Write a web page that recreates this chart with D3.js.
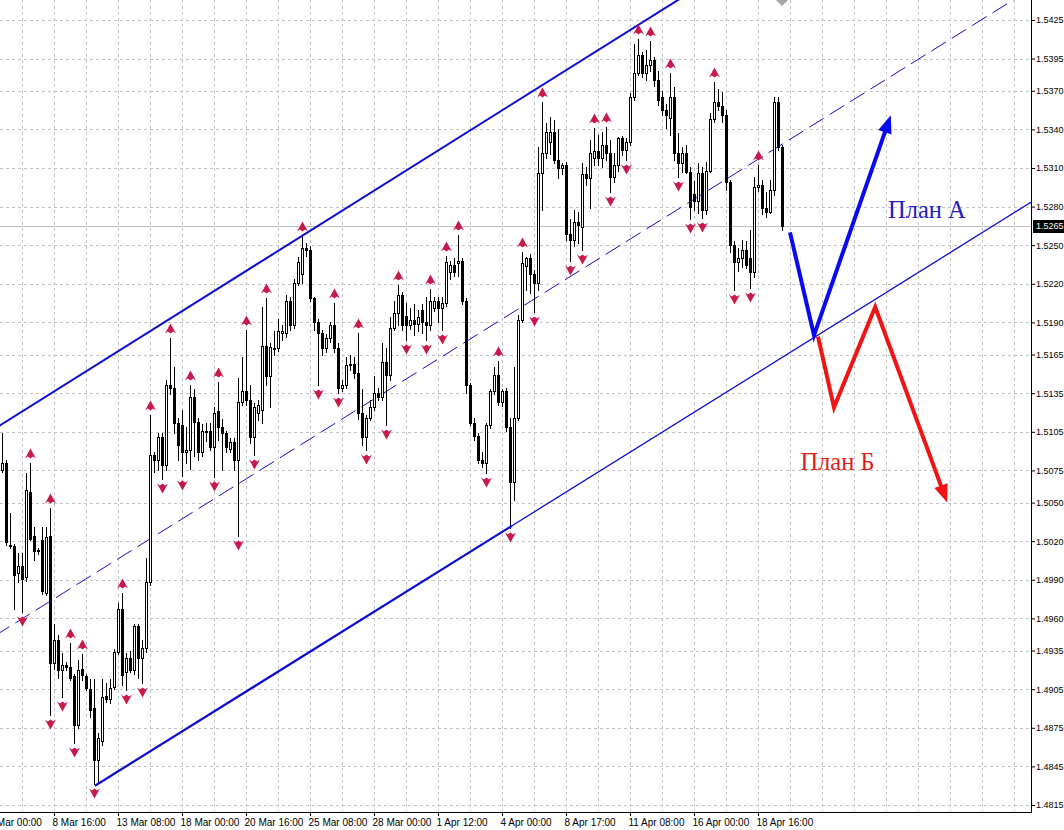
<!DOCTYPE html>
<html><head><meta charset="utf-8">
<script src="https://cdn.jsdelivr.net/npm/d3@7"></script>
<style>
html,body{margin:0;padding:0;background:#fff;}
svg{display:block;}
</style></head><body>
<svg id="chart" width="1064" height="830"></svg>
<script>
// ---- data (H4 bars, prices) ----
const openP = [
1.5075,1.5081,1.5017,1.5016,1.4995,1.5001,1.4992,1.5058,1.5024,1.5012,
1.5021,1.4980,1.5024,1.4925,1.4943,1.4920,1.4924,1.4922,1.4915,1.4877,
1.4921,1.4915,1.4905,1.4890,1.4850,1.4865,1.4900,1.4897,1.4907,1.4934,
1.4967,1.4918,1.4929,1.4920,1.4954,1.4929,1.4937,1.4988,1.5087,1.5083,
1.5101,1.5079,1.5141,1.5139,1.5112,1.5110,1.5089,1.5091,1.5132,1.5113,
1.5089,1.5106,1.5106,1.5093,1.5121,1.5109,1.5104,1.5092,1.5097,1.5083,
1.5128,1.5137,1.5130,1.5101,1.5120,1.5122,1.5172,1.5148,1.5169,1.5170,
1.5182,1.5182,1.5207,1.5188,1.5221,1.5228,1.5248,1.5246,1.5209,1.5190,
1.5182,1.5170,1.5178,1.5188,1.5170,1.5139,1.5141,1.5157,1.5158,1.5151,
1.5120,1.5101,1.5116,1.5124,1.5135,1.5132,1.5159,1.5149,1.5186,1.5197,
1.5211,1.5195,1.5188,1.5192,1.5189,1.5200,1.5190,1.5188,1.5201,1.5207,
1.5201,1.5205,1.5229,1.5235,1.5236,1.5238,1.5207,1.5141,1.5112,1.5102,
1.5083,1.5081,1.5110,1.5137,1.5149,1.5128,1.5137,1.5109,1.5066,1.5116,
1.5192,1.5234,1.5240,1.5228,1.5221,1.5306,1.5322,1.5330,1.5338,1.5316,
1.5310,1.5312,1.5259,1.5254,1.5268,1.5264,1.5305,1.5302,1.5318,1.5323,
1.5318,1.5328,1.5322,1.5303,1.5312,1.5333,1.5324,1.5330,1.5365,1.5384,
1.5398,1.5384,1.5390,1.5394,1.5378,1.5365,1.5355,1.5349,1.5365,1.5322,
1.5314,1.5322,1.5307,1.5290,1.5284,1.5306,1.5277,1.5308,1.5348,1.5361,
1.5358,1.5351,1.5299,1.5250,1.5237,1.5240,1.5246,1.5240,1.5229,1.5295,
1.5297,1.5279,1.5276,1.5293,1.5361,1.5326];
const highP = [
1.5104,1.5083,1.5042,1.5018,1.5011,1.5011,1.5073,1.5081,1.5031,1.5015,
1.5031,1.5031,1.5046,1.4956,1.4947,1.4933,1.4926,1.4941,1.4917,1.4928,
1.4932,1.4917,1.4913,1.4913,1.4871,1.4913,1.4910,1.4913,1.4936,1.4972,
1.4980,1.4933,1.4935,1.4956,1.4956,1.4943,1.5007,1.5118,1.5089,1.5104,
1.5104,1.5145,1.5178,1.5155,1.5116,1.5122,1.5109,1.5141,1.5138,1.5116,
1.5111,1.5112,1.5112,1.5124,1.5144,1.5115,1.5106,1.5100,1.5100,1.5147,
1.5163,1.5184,1.5141,1.5127,1.5130,1.5202,1.5209,1.5174,1.5183,1.5193,
1.5188,1.5211,1.5210,1.5224,1.5241,1.5257,1.5252,1.5249,1.5210,1.5193,
1.5184,1.5181,1.5190,1.5205,1.5174,1.5145,1.5163,1.5165,1.5163,1.5182,
1.5138,1.5118,1.5130,1.5148,1.5139,1.5174,1.5170,1.5194,1.5207,1.5219,
1.5214,1.5205,1.5201,1.5204,1.5200,1.5204,1.5210,1.5216,1.5210,1.5210,
1.5210,1.5242,1.5238,1.5240,1.5258,1.5240,1.5209,1.5143,1.5116,1.5104,
1.5089,1.5112,1.5138,1.5155,1.5160,1.5138,1.5139,1.5116,1.5155,1.5196,
1.5245,1.5241,1.5243,1.5231,1.5326,1.5361,1.5345,1.5350,1.5347,1.5340,
1.5314,1.5315,1.5270,1.5277,1.5276,1.5314,1.5311,1.5332,1.5341,1.5336,
1.5338,1.5342,1.5332,1.5322,1.5334,1.5335,1.5333,1.5368,1.5406,1.5410,
1.5400,1.5402,1.5409,1.5396,1.5385,1.5370,1.5360,1.5384,1.5373,1.5337,
1.5326,1.5328,1.5311,1.5300,1.5314,1.5311,1.5315,1.5353,1.5377,1.5371,
1.5369,1.5355,1.5301,1.5253,1.5248,1.5254,1.5253,1.5262,1.5303,1.5312,
1.5301,1.5291,1.5301,1.5365,1.5365,1.5328];
const lowP = [
1.5074,1.5017,1.5015,1.4967,1.4988,1.4965,1.4989,1.5021,1.5005,1.5010,
1.4979,1.4978,1.4885,1.4921,1.4914,1.4899,1.4920,1.4912,1.4863,1.4875,
1.4912,1.4904,1.4883,1.4831,1.4833,1.4862,1.4895,1.4894,1.4905,1.4932,
1.4908,1.4904,1.4918,1.4917,1.4914,1.4910,1.4934,1.4986,1.5074,1.5075,
1.5068,1.5075,1.5134,1.5104,1.5083,1.5071,1.5081,1.5076,1.5086,1.5083,
1.5086,1.5098,1.5091,1.5070,1.5099,1.5075,1.5089,1.5089,1.5075,1.5024,
1.5126,1.5126,1.5096,1.5087,1.5114,1.5112,1.5141,1.5124,1.5165,1.5168,
1.5176,1.5179,1.5184,1.5186,1.5219,1.5221,1.5242,1.5207,1.5184,1.5141,
1.5165,1.5167,1.5175,1.5167,1.5135,1.5137,1.5139,1.5153,1.5147,1.5115,
1.5095,1.5091,1.5114,1.5122,1.5130,1.5130,1.5110,1.5145,1.5184,1.5188,
1.5184,1.5176,1.5185,1.5180,1.5183,1.5182,1.5176,1.5184,1.5199,1.5190,
1.5184,1.5203,1.5224,1.5226,1.5226,1.5204,1.5135,1.5110,1.5099,1.5081,
1.5078,1.5073,1.5108,1.5134,1.5126,1.5125,1.5106,1.5030,1.5052,1.5114,
1.5190,1.5215,1.5213,1.5198,1.5215,1.5277,1.5318,1.5321,1.5314,1.5302,
1.5305,1.5254,1.5238,1.5249,1.5252,1.5246,1.5297,1.5279,1.5312,1.5312,
1.5311,1.5316,1.5291,1.5299,1.5308,1.5320,1.5316,1.5328,1.5363,1.5382,
1.5381,1.5378,1.5385,1.5374,1.5359,1.5351,1.5341,1.5336,1.5316,1.5303,
1.5307,1.5306,1.5270,1.5277,1.5275,1.5271,1.5274,1.5307,1.5346,1.5355,
1.5346,1.5293,1.5245,1.5215,1.5230,1.5233,1.5232,1.5217,1.5225,1.5292,
1.5274,1.5272,1.5275,1.5289,1.5324,1.5262];
const closeP = [
1.5081,1.5019,1.5016,1.4994,1.5001,1.4991,1.5060,1.5022,1.5012,1.5013,
1.4981,1.5023,1.4925,1.4943,1.4920,1.4924,1.4922,1.4914,1.4877,1.4920,
1.4916,1.4906,1.4889,1.4850,1.4867,1.4899,1.4897,1.4906,1.4934,1.4967,
1.4916,1.4929,1.4920,1.4954,1.4929,1.4937,1.4988,1.5087,1.5083,1.5101,
1.5079,1.5141,1.5139,1.5112,1.5095,1.5089,1.5091,1.5132,1.5113,1.5089,
1.5106,1.5105,1.5093,1.5120,1.5109,1.5104,1.5093,1.5097,1.5083,1.5128,
1.5137,1.5130,1.5101,1.5124,1.5126,1.5172,1.5148,1.5171,1.5170,1.5183,
1.5183,1.5207,1.5188,1.5221,1.5237,1.5248,1.5246,1.5209,1.5190,1.5182,
1.5170,1.5178,1.5188,1.5170,1.5139,1.5141,1.5157,1.5158,1.5151,1.5120,
1.5101,1.5116,1.5124,1.5135,1.5132,1.5159,1.5149,1.5186,1.5197,1.5211,
1.5188,1.5188,1.5192,1.5189,1.5194,1.5190,1.5188,1.5207,1.5207,1.5201,
1.5205,1.5237,1.5235,1.5229,1.5238,1.5207,1.5141,1.5112,1.5102,1.5083,
1.5081,1.5110,1.5137,1.5149,1.5128,1.5137,1.5109,1.5066,1.5116,1.5192,
1.5236,1.5240,1.5228,1.5221,1.5306,1.5322,1.5338,1.5338,1.5316,1.5310,
1.5312,1.5259,1.5254,1.5268,1.5266,1.5305,1.5302,1.5322,1.5323,1.5318,
1.5328,1.5322,1.5303,1.5312,1.5333,1.5324,1.5330,1.5365,1.5384,1.5398,
1.5384,1.5390,1.5394,1.5378,1.5363,1.5355,1.5351,1.5365,1.5322,1.5314,
1.5322,1.5307,1.5280,1.5284,1.5306,1.5277,1.5308,1.5348,1.5361,1.5358,
1.5351,1.5299,1.5250,1.5237,1.5240,1.5246,1.5235,1.5229,1.5295,1.5297,
1.5279,1.5276,1.5293,1.5361,1.5326,1.5265];

const xTickIndex  = [-3,13,29,45,61,77,93,109,125,141,157,173,189];
const xTickLabels = ["6 Mar 00:00","8 Mar 16:00","13 Mar 08:00","18 Mar 00:00","20 Mar 16:00",
  "25 Mar 08:00","28 Mar 00:00","1 Apr 12:00","4 Apr 00:00","8 Apr 17:00","11 Apr 08:00",
  "16 Apr 00:00","18 Apr 16:00"];
const yTicks = [1.5425,1.5395,1.5370,1.5340,1.5310,1.5280,1.5250,1.5220,1.5190,1.5165,1.5135,
  1.5105,1.5075,1.5050,1.5020,1.4990,1.4960,1.4935,1.4905,1.4875,1.4845,1.4815];
const upFractals = [7,12,17,20,30,37,42,47,54,61,66,75,83,89,99,107,111,114,124,130,135,148,151,159,162,167,178,189];
const downFractals = [5,12,15,18,23,31,35,40,45,53,59,63,79,84,91,96,101,106,110,121,127,133,142,145,152,156,169,172,175,183,187];
const currentPrice = 1.5265;
const upperChannel = [[-0.5,1.5110],[159.5,1.5422]];
const lowerChannel = [[23.25,1.4830],[127.5,1.5032]];
const midChannel   = [[-0.5,1.4949],[252,1.5439]];
const planA = [[197,1.5260],[203,1.5180],[222.2,1.5351]];
const planB = [[204,1.5179],[208,1.5124],[218.3,1.5202],[236.3,1.5050]];
const planALabel = {text:"План А", i:221.5, p:1.5271};
const planBLabel = {text:"План Б", i:199.6, p:1.5075};

// ---- layout ----
const W = 1064, H = 830, plotR = 1031, plotB = 812;
const svg = d3.select("#chart");
svg.append("rect").attr("width",W).attr("height",H).attr("fill","#fff");

const x = d3.scaleLinear().domain([0,195]).range([2,782]);
const y = d3.scaleLinear().domain([1.4815,1.5425]).range([805,20]);
const idx = d3.range(openP.length);

svg.append("defs").append("clipPath").attr("id","plotclip")
  .append("rect").attr("x",0).attr("y",0).attr("width",plotR).attr("height",plotB);
const plot = svg.append("g").attr("clip-path","url(#plotclip)");

// grid
const grid = plot.append("g").attr("stroke","#c4c4c4").attr("stroke-width",1)
  .attr("stroke-dasharray","3,3").attr("shape-rendering","crispEdges");
grid.selectAll("line.h").data(yTicks).join("line").attr("class","h")
  .attr("x1",0).attr("x2",plotR)
  .attr("y1",d=>Math.round(y(d))+0.5).attr("y2",d=>Math.round(y(d))+0.5);
const vIdx = d3.range(5, x.invert(plotR), 8);
grid.selectAll("line.v").data(vIdx).join("line").attr("class","v")
  .attr("y1",0).attr("y2",plotB)
  .attr("x1",d=>Math.round(x(d))+0.5).attr("x2",d=>Math.round(x(d))+0.5);

// current price line
plot.append("line").attr("x1",0).attr("x2",plotR)
  .attr("y1",Math.round(y(currentPrice))+0.5).attr("y2",Math.round(y(currentPrice))+0.5)
  .attr("stroke","#c0c0c0").attr("stroke-width",1).attr("shape-rendering","crispEdges");

// channel helpers
function lineAt(a,i){return a[0][1]+(a[1][1]-a[0][1])*(i-a[0][0])/(a[1][0]-a[0][0]);}
const iLeft = x.invert(-5), iRight = x.invert(plotR+5);

plot.append("line")
  .attr("x1",x(iLeft)).attr("y1",y(lineAt(midChannel,iLeft)))
  .attr("x2",x(iRight)).attr("y2",y(lineAt(midChannel,iRight)))
  .attr("stroke","#1010c8").attr("stroke-width",1).attr("stroke-dasharray","17,7");

// candles
const cg = plot.append("g").attr("shape-rendering","crispEdges");
cg.selectAll("rect.wick").data(idx).join("rect").attr("class","wick")
  .attr("x",i=>Math.round(x(i))).attr("width",1)
  .attr("y",i=>Math.round(y(highP[i])))
  .attr("height",i=>Math.max(1,Math.round(y(lowP[i]))-Math.round(y(highP[i]))+1))
  .attr("fill","#000");
function bTop(i){return Math.round(y(Math.max(openP[i],closeP[i])));}
function bBot(i){return Math.round(y(Math.min(openP[i],closeP[i])));}
cg.selectAll("rect.body").data(idx).join("rect").attr("class","body")
  .attr("x",i=>Math.round(x(i))-1).attr("width",3)
  .attr("y",i=>bTop(i)).attr("height",i=>Math.max(1,bBot(i)-bTop(i)+1))
  .attr("fill","#000");
const bulls = idx.filter(i=>closeP[i]>openP[i] && bBot(i)-bTop(i)>=2);
cg.selectAll("rect.hollow").data(bulls).join("rect").attr("class","hollow")
  .attr("x",i=>Math.round(x(i))).attr("width",1)
  .attr("y",i=>bTop(i)+1).attr("height",i=>bBot(i)-bTop(i)-1)
  .attr("fill","#fff");

// channel lines
plot.append("line")
  .attr("x1",x(iLeft)).attr("y1",y(lineAt(upperChannel,iLeft)))
  .attr("x2",x(iRight)).attr("y2",y(lineAt(upperChannel,iRight)))
  .attr("stroke","#0c0cd2").attr("stroke-width",2);
plot.append("line")
  .attr("x1",x(lowerChannel[0][0])).attr("y1",y(lowerChannel[0][1]))
  .attr("x2",x(lowerChannel[1][0])).attr("y2",y(lowerChannel[1][1]))
  .attr("stroke","#0c0cd2").attr("stroke-width",2.2);
plot.append("line")
  .attr("x1",x(lowerChannel[1][0])).attr("y1",y(lowerChannel[1][1]))
  .attr("x2",x(iRight)).attr("y2",y(lineAt(lowerChannel,iRight)))
  .attr("stroke","#0c0cd2").attr("stroke-width",1.3);

// fractals
const fracColor = "#c8194b";
plot.selectAll("path.up").data(upFractals).join("path").attr("class","up")
  .attr("transform",i=>`translate(${Math.round(x(i))+0.5},${Math.round(y(highP[i]))-9})`)
  .attr("d","M0,-5.5 L5.5,4.5 L2.6,2.6 L0,4.6 L-2.6,2.6 L-5.5,4.5 Z").attr("fill",fracColor);
plot.selectAll("path.dn").data(downFractals).join("path").attr("class","dn")
  .attr("transform",i=>`translate(${Math.round(x(i))+0.5},${Math.round(y(lowP[i]))+9})`)
  .attr("d","M0,5.5 L5.5,-4.5 L2.6,-2.6 L0,-4.6 L-2.6,-2.6 L-5.5,-4.5 Z").attr("fill",fracColor);

// plan arrows
function drawPlan(pts,color){
  const P = pts.map(d=>[x(d[0]),y(d[1])]);
  const n = P.length, tip = P[n-1], prev = P[n-2];
  const dx = tip[0]-prev[0], dy = tip[1]-prev[1], len = Math.hypot(dx,dy);
  const ux = dx/len, uy = dy/len, L = 18, Wd = 7;
  const base = [tip[0]-ux*L, tip[1]-uy*L];
  const shaft = P.slice(0,n-1).concat([[tip[0]-ux*(L-2), tip[1]-uy*(L-2)]]);
  plot.append("path").attr("d",d3.line()(shaft)).attr("fill","none")
    .attr("stroke",color).attr("stroke-width",4).attr("stroke-linejoin","miter").attr("stroke-miterlimit",10);
  plot.append("path").attr("d",`M${tip[0]},${tip[1]} L${base[0]-uy*Wd},${base[1]+ux*Wd} L${base[0]+uy*Wd},${base[1]-ux*Wd} Z`)
    .attr("fill",color);
}
drawPlan(planA,"#0a0af0");
drawPlan(planB,"#f01414");

// labels
plot.append("text").attr("x",x(planALabel.i)).attr("y",y(planALabel.p)).text(planALabel.text)
  .attr("font-family","'Liberation Serif','Times New Roman',serif").attr("font-size",24.5).attr("fill","#2020c8");
plot.append("text").attr("x",x(planBLabel.i)).attr("y",y(planBLabel.p)).text(planBLabel.text)
  .attr("font-family","'Liberation Serif','Times New Roman',serif").attr("font-size",24.5).attr("fill","#e01c1c");

// chart shift marker
svg.append("path").attr("d",`M${x(195)-6},0 L${x(195)+6},0 L${x(195)},6 Z`).attr("fill","#a8a8a8");

// axes
const axisFont = "'Liberation Sans',Arial,sans-serif";
const yAxis = d3.axisRight(y).tickValues(yTicks).tickFormat(d3.format(".4f")).tickSize(4).tickPadding(1).tickSizeOuter(0);
const gy = svg.append("g").attr("transform",`translate(${plotR},0)`).call(yAxis);
gy.select(".domain").remove();
gy.selectAll("text").attr("font-family",axisFont).attr("font-size",9).attr("fill","#000");
gy.selectAll("line").attr("stroke","#000");

const xAxis = d3.axisBottom(x).tickValues(xTickIndex).tickFormat((d,k)=>xTickLabels[k]).tickSize(4).tickPadding(3).tickSizeOuter(0);
const gx = svg.append("g").attr("transform",`translate(0,${plotB})`).call(xAxis);
gx.select(".domain").remove();
gx.selectAll("text").attr("text-anchor","start").attr("x",-2)
  .attr("font-family",axisFont).attr("font-size",10).attr("fill","#000");
gx.selectAll("line").attr("stroke","#000");

// axis frame lines
svg.append("line").attr("x1",plotR+0.5).attr("x2",plotR+0.5).attr("y1",0).attr("y2",plotB+1)
  .attr("stroke","#000").attr("shape-rendering","crispEdges");
svg.append("line").attr("x1",0).attr("x2",plotR+1).attr("y1",plotB+0.5).attr("y2",plotB+0.5)
  .attr("stroke","#000").attr("shape-rendering","crispEdges");

// current price tag
const cpY = Math.round(y(currentPrice));
svg.append("rect").attr("x",plotR+2).attr("y",cpY-6).attr("width",W-plotR-2).attr("height",13).attr("fill","#000");
svg.append("text").attr("x",plotR+5).attr("y",cpY).attr("dy","0.35em").text(d3.format(".4f")(currentPrice))
  .attr("font-family",axisFont).attr("font-size",9).attr("fill","#fff");
</script>
</body></html>
